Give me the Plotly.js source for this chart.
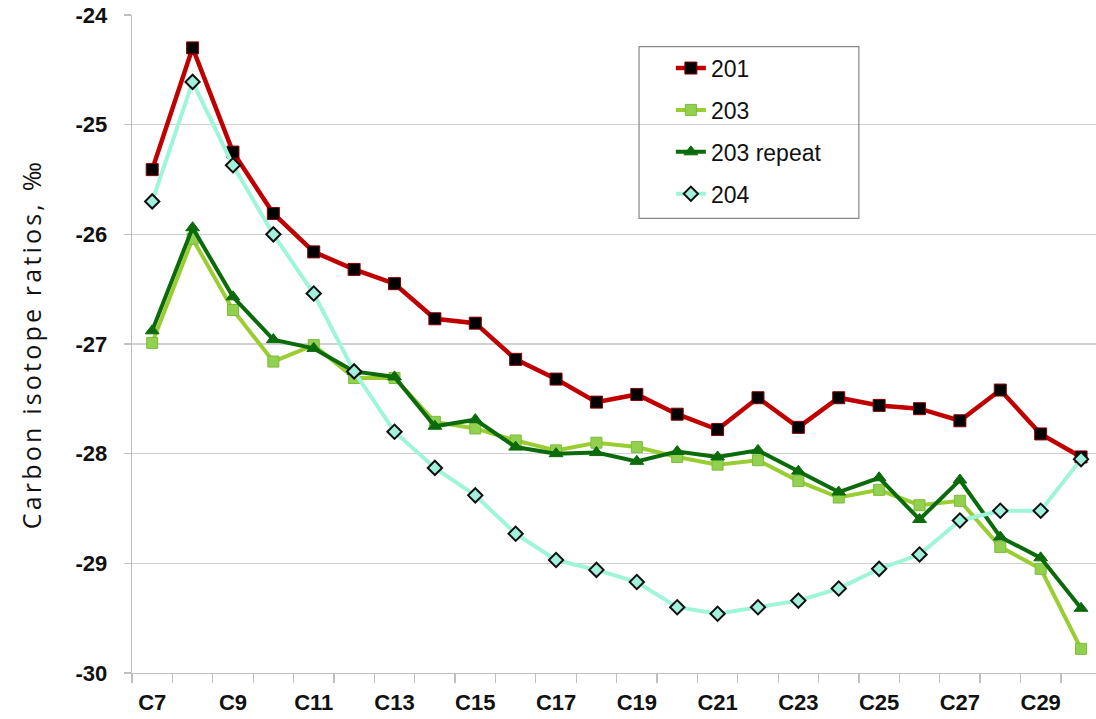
<!DOCTYPE html>
<html>
<head>
<meta charset="utf-8">
<script src="https://cdn.plot.ly/plotly-3.0.1.min.js"></script>
<style>
html, body { margin: 0; padding: 0; background: #fff; }
#chart { width: 1096px; height: 719px; }
.ytitle { letter-spacing: 3.2px; }
</style>
</head>
<body>
<div id="chart"></div>
<script>
const categories = ['C7','C8','C9','C10','C11','C12','C13','C14','C15','C16','C17','C18',
  'C19','C20','C21','C22','C23','C24','C25','C26','C27','C28','C29','C30'];

const s201 = [-25.41,-24.30,-25.25,-25.81,-26.16,-26.32,-26.45,-26.77,-26.81,-27.14,-27.32,-27.53,
  -27.46,-27.64,-27.78,-27.49,-27.76,-27.49,-27.56,-27.59,-27.70,-27.42,-27.82,-28.03];

const s203 = [-26.99,-26.04,-26.69,-27.16,-27.01,-27.31,-27.31,-27.71,-27.77,-27.88,-27.97,-27.90,
  -27.94,-28.03,-28.10,-28.06,-28.25,-28.40,-28.33,-28.47,-28.43,-28.85,-29.05,-29.78];

const s203r = [-26.88,-25.94,-26.57,-26.96,-27.04,-27.25,-27.30,-27.75,-27.69,-27.94,-28.00,-27.99,
  -28.07,-27.98,-28.03,-27.97,-28.16,-28.35,-28.22,-28.60,-28.24,-28.76,-28.95,-29.41];

const s204 = [-25.70,-24.61,-25.37,-26.00,-26.54,-27.25,-27.80,-28.13,-28.38,-28.73,-28.97,-29.06,
  -29.17,-29.40,-29.46,-29.40,-29.34,-29.23,-29.05,-28.92,-28.61,-28.52,-28.52,-28.05];

const seriesNames = ['201','203','203 repeat','204'];
const xTickLabels = categories.filter((c, i) => i % 2 === 0);
const yTickVals = [-30, -29, -28, -27, -26, -25, -24];
const yTickText = ['-30', '-29', '-28', '-27', '-26', '-25', '-24'];

const xIdx = categories.map((c, i) => i);
const xTickIdx = xIdx.filter(i => i % 2 === 0);

const tickFont = {family: 'Liberation Sans, Arial, sans-serif', size: 22, color: '#111', weight: 'bold'};

const traces = [
  {
    x: xIdx, y: s201, name: seriesNames[0], mode: 'lines+markers', legendgroup: 'a',
    line: {color: '#C00000', width: 4.5},
    marker: {symbol: 'square', size: 12, color: '#000000', line: {color: '#8B0000', width: 1}}
  },
  {
    x: xIdx, y: s203, name: seriesNames[1], mode: 'lines+markers', legendgroup: 'b',
    line: {color: '#9ACD32', width: 4},
    marker: {symbol: 'square', size: 11, color: '#92D050', line: {color: '#7DBB3A', width: 1}}
  },
  {
    x: xIdx, y: s203r, name: seriesNames[2], mode: 'lines+markers', legendgroup: 'c',
    line: {color: '#0B6B0B', width: 4},
    marker: {symbol: 'triangle-up', size: 12, color: '#0B6B0B', line: {color: '#0B6B0B', width: 1}}
  },
  {
    x: xIdx, y: s204, name: seriesNames[3], mode: 'lines+markers', legendgroup: 'd',
    line: {color: '#9FF5DA', width: 4},
    marker: {symbol: 'diamond', size: 11, color: '#A3F0DC', line: {color: '#111111', width: 2}}
  }
];

const layout = {
  width: 1096, height: 719,
  margin: {l: 132, r: 0, t: 15, b: 46},
  paper_bgcolor: '#ffffff', plot_bgcolor: '#ffffff',
  showlegend: true,
  legend: {
    x: 0.559, y: 0.952, xanchor: 'left', yanchor: 'top',
    font: {family: 'Liberation Sans, Arial, sans-serif', size: 23, color: '#111'},
    bgcolor: 'rgba(0,0,0,0)', borderwidth: 0,
    tracegroupgap: 9, itemwidth: 30
  },
  shapes: [{
    type: 'rect', xref: 'paper', yref: 'paper', layer: 'above',
    x0: 0.526, x1: 0.754, y0: 0.691, y1: 0.952,
    line: {color: '#888888', width: 1.2}, fillcolor: 'rgba(255,255,255,0)'
  }],
  xaxis: {
    range: [-0.5, 23.37],
    tickmode: 'array', tickvals: xTickIdx, ticktext: xTickLabels,
    ticks: 'outside', ticklen: 9, tickcolor: 'rgba(0,0,0,0)',
    tickfont: tickFont,
    showgrid: false, zeroline: false,
    showline: true, linecolor: '#BFBFBF', linewidth: 1.3,
    minor: {tick0: -0.5, dtick: 1, ticks: 'outside', ticklen: 9, tickcolor: '#BFBFBF', tickwidth: 1.3, showgrid: false}
  },
  yaxis: {
    range: [-30, -24],
    tickmode: 'array', tickvals: yTickVals, ticktext: yTickText,
    ticks: 'outside', ticklen: 7, tickcolor: '#BFBFBF', tickwidth: 1.3,
    tickfont: tickFont,
    ticklabelstandoff: 12,
    showgrid: true, gridcolor: '#D0D0D0', gridwidth: 1.3, zeroline: false,
    showline: true, linecolor: '#BFBFBF', linewidth: 1.3,
    title: {text: 'Carbon isotope ratios, ‰', standoff: 26,
      font: {family: 'Open Sans, sans-serif', size: 25, color: '#111'}}
  }
};

Plotly.newPlot('chart', traces, layout, {displayModeBar: false, staticPlot: true});
</script>
</body>
</html>
